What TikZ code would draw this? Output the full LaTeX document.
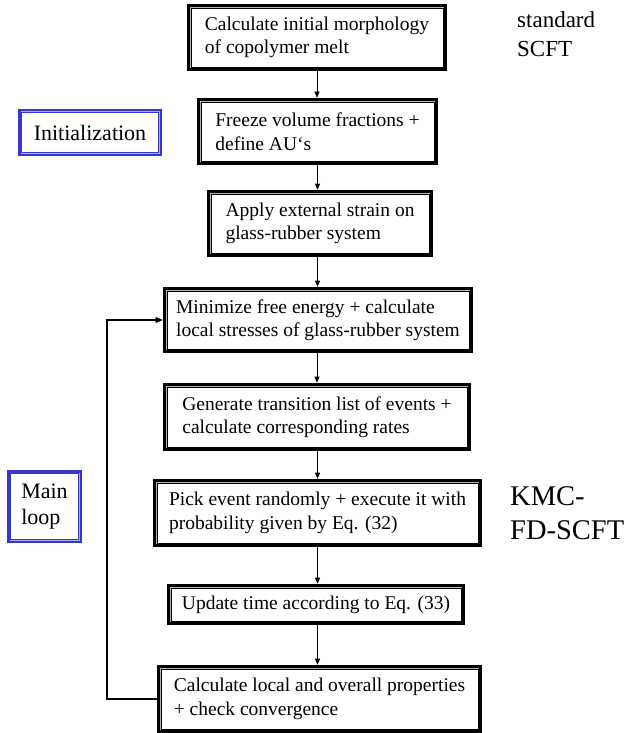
\documentclass[tikz,border=0pt]{standalone}
\usepackage{fontspec}
\setmainfont{Liberation Serif}
\usetikzlibrary{arrows.meta}
\definecolor{initblue}{RGB}{55,55,205}
\definecolor{initgap}{RGB}{175,175,235}

\begin{document}
\begin{tikzpicture}[x=1pt,y=-1pt,
    stepbox/.style={preaction={draw=black,line width=8pt},
        preaction={draw=gray!60,line width=2.4pt},
        draw=black,line width=0.6pt,fill=white,
        inner sep=2pt,align=left,
        font=\fontsize{19.5}{23.5}\selectfont},
    tagbox/.style={preaction={draw=initblue,line width=6.5pt},
        preaction={draw=initgap,line width=2pt},
        draw=initblue,line width=0.6pt,fill=white,
        inner sep=0pt,align=left,
        font=\fontsize{22}{26}\selectfont},
    sidetext/.style={anchor=north west,inner sep=0pt,align=left},
    flow/.style={-{Triangle[length=6pt,width=5pt]},line width=0.6pt,
        shorten <=4pt,shorten >=4pt},
    loopline/.style={-{Triangle[length=7pt,width=6pt]},line width=1.3pt,
        shorten <=4pt,shorten >=4pt}]
    \useasboundingbox (0,0) rectangle (629,733);

    \node[stepbox,minimum width=252pt,minimum height=59pt] (calc) at (317,37.5)
        {Calculate initial morphology\\of copolymer melt};
    \node[stepbox,minimum width=233pt,minimum height=59pt] (freeze) at (317.5,131.5)
        {Freeze volume fractions +\\define AU‘s};
    \node[stepbox,minimum width=218pt,minimum height=59pt] (strain) at (320,223.5)
        {Apply external strain on\\glass-rubber system};
    \node[stepbox,minimum width=302pt,minimum height=58pt] (minim) at (318,320)
        {Minimize free energy + calculate\\local stresses of glass-rubber system};
    \node[stepbox,minimum width=300pt,minimum height=60pt] (rates) at (317,417)
        {Generate transition list of events +\\calculate corresponding rates};
    \node[stepbox,minimum width=321pt,minimum height=60pt] (pick) at (317.5,513)
        {Pick event randomly + execute it with\\probability given by Eq. (32)};
    \node[stepbox,minimum width=290pt,minimum height=33pt] (update) at (316,604.5)
        {Update time according to Eq. (33)};
    \node[stepbox,minimum width=317pt,minimum height=60pt] (props) at (319.5,699)
        {Calculate local and overall properties\\+ check convergence};

    \node[tagbox,minimum width=137pt,minimum height=40pt] (init) at (90,132.5)
        {Initialization};
    \node[tagbox,minimum width=68pt,minimum height=66pt] (mainloop) at (44.5,506.5)
        {Main\\loop};

    \node[sidetext,font=\fontsize{23}{29}\selectfont] (scft) at (517,11)
        {standard\\SCFT};
    \node[sidetext,font=\fontsize{28.5}{34}\selectfont] (kmc) at (510,486)
        {KMC-\\FD-SCFT};

    \draw[flow] (calc.south) -- (calc.south |- freeze.north);
    \draw[flow] (freeze.south) -- (freeze.south |- strain.north);
    \draw[flow] (strain.south -| freeze.south) -- (freeze.south |- minim.north);
    \draw[flow] (minim.south -| rates.south) -- (rates.north);
    \draw[flow] (rates.south -| pick.south) -- (pick.north);
    \draw[flow] (pick.south) -- (pick.south |- update.north);
    \draw[flow] (update.south -| pick.south) -- (pick.south |- props.north);

    \coordinate (back) at (107,0);
    \draw[loopline] (props.west) -- (props.west -| back) |- (minim.west);
\end{tikzpicture}
\end{document}
